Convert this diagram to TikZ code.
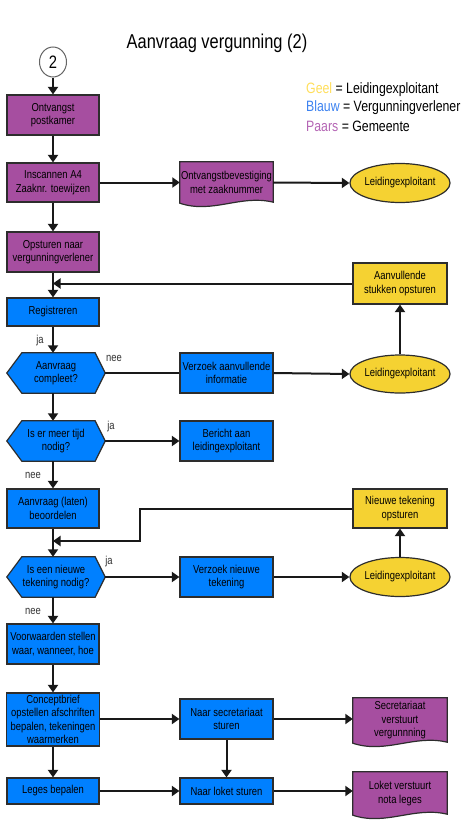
\documentclass[tikz,border=0pt]{standalone}
\usepackage{fontspec}
\setmainfont{Liberation Sans}[FakeStretch=0.82]
\usetikzlibrary{arrows.meta,calc,shapes.geometric}
\pgfdeclarelayer{bg}
\pgfsetlayers{bg,main}
\definecolor{paars}{RGB}{166,78,160}
\definecolor{blauw}{RGB}{0,128,255}
\definecolor{geel}{RGB}{245,210,50}
\definecolor{lgeel}{RGB}{255,222,90}
\definecolor{lblauw}{RGB}{60,130,240}
\definecolor{lpaars}{RGB}{180,100,180}
\definecolor{boxline}{RGB}{45,45,45}
\definecolor{arrowc}{RGB}{25,25,25}
\begin{document}
\begin{tikzpicture}[x=1pt,y=-1pt,
  txt/.style={font=\fontsize{11.5}{13.5}\selectfont, text=black},
  box/.style={txt, draw=boxline, line width=1.2pt, minimum width=92pt, minimum height=40pt, inner sep=1pt, align=center},
  purplebox/.style={box, fill=paars},
  bluebox/.style={box, fill=blauw},
  yellowbox/.style={box, fill=geel, minimum width=94pt},
  ellnode/.style={txt, ellipse, draw=boxline, line width=1.2pt, fill=geel, minimum width=94pt, minimum height=39pt, inner sep=0pt},
  hexnode/.style={txt, minimum width=98pt, minimum height=40pt, inner sep=1pt, align=center},
  hexdraw/.style={draw=boxline, line width=1.2pt, fill=blauw},
  docnode/.style={txt, minimum width=93pt, minimum height=41pt, inner sep=1pt, align=center},
  docdraw/.style={draw=boxline, line width=1.2pt, fill=paars},
  arr/.style={-{Triangle[length=7.5pt,width=10pt]}, line width=2pt, draw=arrowc},
  lbl/.style={font=\fontsize{11.5}{13.5}\selectfont, text=black!80},
  legend/.style={font=\fontsize{15}{18}\selectfont, anchor=west, inner sep=0pt}
]
\useasboundingbox (0,0) rectangle (471,835);

% title and legend
\node[font=\fontsize{20}{24}\selectfont] (title) at (217,43) {Aanvraag vergunning (2)};
\node[legend] (lg1) at (306,90) {\textcolor{lgeel}{Geel} = Leidingexploitant};
\node[legend] (lg2) at (306,108) {\textcolor{lblauw}{Blauw} = Vergunningverlener};
\node[legend] (lg3) at (306,126) {\textcolor{lpaars}{Paars} = Gemeente};

% start connector
\node[ellipse, draw=black!60, line width=1pt, fill=white, minimum width=27pt, minimum height=30pt, inner sep=0pt, font=\fontsize{18}{20}\selectfont] (c2) at (53,62) {2};

% left column
\node[purplebox] (b1) at (53,115) {Ontvangst\\postkamer};
\node[purplebox, minimum height=39pt] (b2) at (53,182.5) {Inscannen A4\\Zaaknr. toewijzen};
\node[purplebox] (b3) at (53,252) {Opsturen naar\\vergunningverlener};
\node[bluebox, minimum height=28pt] (b4) at (53,312) {Registreren};
\node[hexnode] (h1) at (56,373) {Aanvraag\\compleet?};
\node[hexnode] (h2) at (56,441) {Is er meer tijd\\nodig?};
\node[bluebox, minimum height=39pt] (b5) at (53,508.5) {Aanvraag (laten)\\beoordelen};
\node[hexnode] (h3) at (56,577) {Is een nieuwe\\tekening nodig?};
\node[bluebox] (b6) at (53,644) {Voorwaarden stellen\\waar, wanneer, hoe};
\node[bluebox, minimum width=93pt, minimum height=53pt] (b7) at (53,719.5) {Conceptbrief\\opstellen afschriften\\bepalen, tekeningen\\waarmerken};
\node[bluebox, minimum height=26pt] (b8) at (53,791) {Leges bepalen};

% middle column
\node[docnode] (d1) at (226.5,182.5) {Ontvangstbevestiging\\met zaaknummer};
\node[bluebox, minimum width=93pt] (v1) at (226.5,373) {Verzoek aanvullende\\informatie};
\node[bluebox, minimum width=93pt] (v2) at (226.5,441) {Bericht aan\\leidingexploitant};
\node[bluebox, minimum width=93pt] (v3) at (226.5,577) {Verzoek nieuwe\\tekening};
\node[bluebox, minimum width=93pt] (v4) at (226.5,719) {Naar secretariaat\\sturen};
\node[bluebox, minimum width=93pt, minimum height=26pt] (v5) at (226.5,791) {Naar loket sturen};

% right column
\node[ellnode] (e1) at (400,183) {Leidingexploitant};
\node[yellowbox, minimum height=41pt] (y1) at (400,283.5) {Aanvullende\\stukken opsturen};
\node[ellnode, minimum height=38pt] (e2) at (400,374) {Leidingexploitant};
\node[yellowbox, minimum height=39pt] (y2) at (400,508.5) {Nieuwe tekening\\opsturen};
\node[ellnode] (e3) at (400,577) {Leidingexploitant};
\node[docnode, minimum width=94pt, minimum height=45pt] (d2) at (400,720.5) {Secretariaat\\verstuurt\\vergunnning};
\node[docnode, minimum width=94pt, minimum height=43pt] (d3) at (400,793.5) {Loket verstuurt\\nota leges};

% shapes behind the text
\begin{pgfonlayer}{bg}
\foreach \n in {h1,h2,h3}{
  \draw[hexdraw] (\n.west) -- ($(\n.north west)+(15,0)$) -- ($(\n.north east)+(-10,0)$) -- (\n.east)
    -- ($(\n.south east)+(-10,0)$) -- ($(\n.south west)+(15,0)$) -- cycle;
}
\foreach \n in {d1,d2,d3}{
  \draw[docdraw] (\n.south west) -- (\n.north west) -- (\n.north east) -- ($(\n.south east)+(0,-1)$)
    .. controls ($(\n.south east)!0.35!(\n.south west)+(0,-9)$) and ($(\n.south east)!0.65!(\n.south west)+(0,11)$) .. (\n.south west) -- cycle;
}
\end{pgfonlayer}

% connectors
\draw[arr] (c2.south) -- (b1.north);
\draw[arr] (b1.south) -- (b2.north);
\draw[arr] (b2.east) -- (d1.west);
\draw[arr] (d1.east) -- (e1.west);
\draw[arr] (b2.south) -- (b3.north);
\draw[arr] (b3.south) -- (b4.north);
\draw[arr] (y1.west) -- (y1.west -| b3.south);
\draw[arr] (b4.south) -- (b4.south |- h1.north);
\draw[line width=2.5pt, draw=arrowc] (h1.east) -- (v1.west);
\draw[arr] (v1.east) -- (e2.west);
\draw[arr] (e2.north) -- (y1.south);
\draw[arr] (b4.south |- h1.south) -- (b4.south |- h2.north);
\draw[arr] (h2.east) -- (v2.west);
\draw[arr] (b4.south |- h2.south) -- (b5.north);
\draw[arr] (b5.south) -- (b5.south |- h3.north);
\coordinate (k1) at (140,541);
\draw[arr] (y2.west) -- (y2.west -| k1) -- (k1) -- (k1 -| b5.south);
\draw[arr] (h3.east) -- (v3.west);
\draw[arr] (v3.east) -- (e3.west);
\draw[arr] (e3.north) -- (y2.south);
\draw[arr] (b5.south |- h3.south) -- (b6.north);
\draw[arr] (b6.south) -- (b7.north);
\draw[arr] (b7.east |- v4.west) -- (v4.west);
\draw[arr] (v4.east) -- (d2.west |- v4.east);
\draw[arr] (v4.south) -- (v5.north);
\draw[arr] (b7.south) -- (b8.north);
\draw[arr] (b8.east) -- (v5.west);
\draw[arr] (v5.east) -- (d3.west |- v5.east);

% labels
\node[lbl] (l1) at (40,341) {ja};
\node[lbl] (l2) at (114,358) {nee};
\node[lbl] (l3) at (111,427) {ja};
\node[lbl] (l4) at (33,475) {nee};
\node[lbl] (l5) at (109,562) {ja};
\node[lbl] (l6) at (33,611) {nee};
\end{tikzpicture}
\end{document}
